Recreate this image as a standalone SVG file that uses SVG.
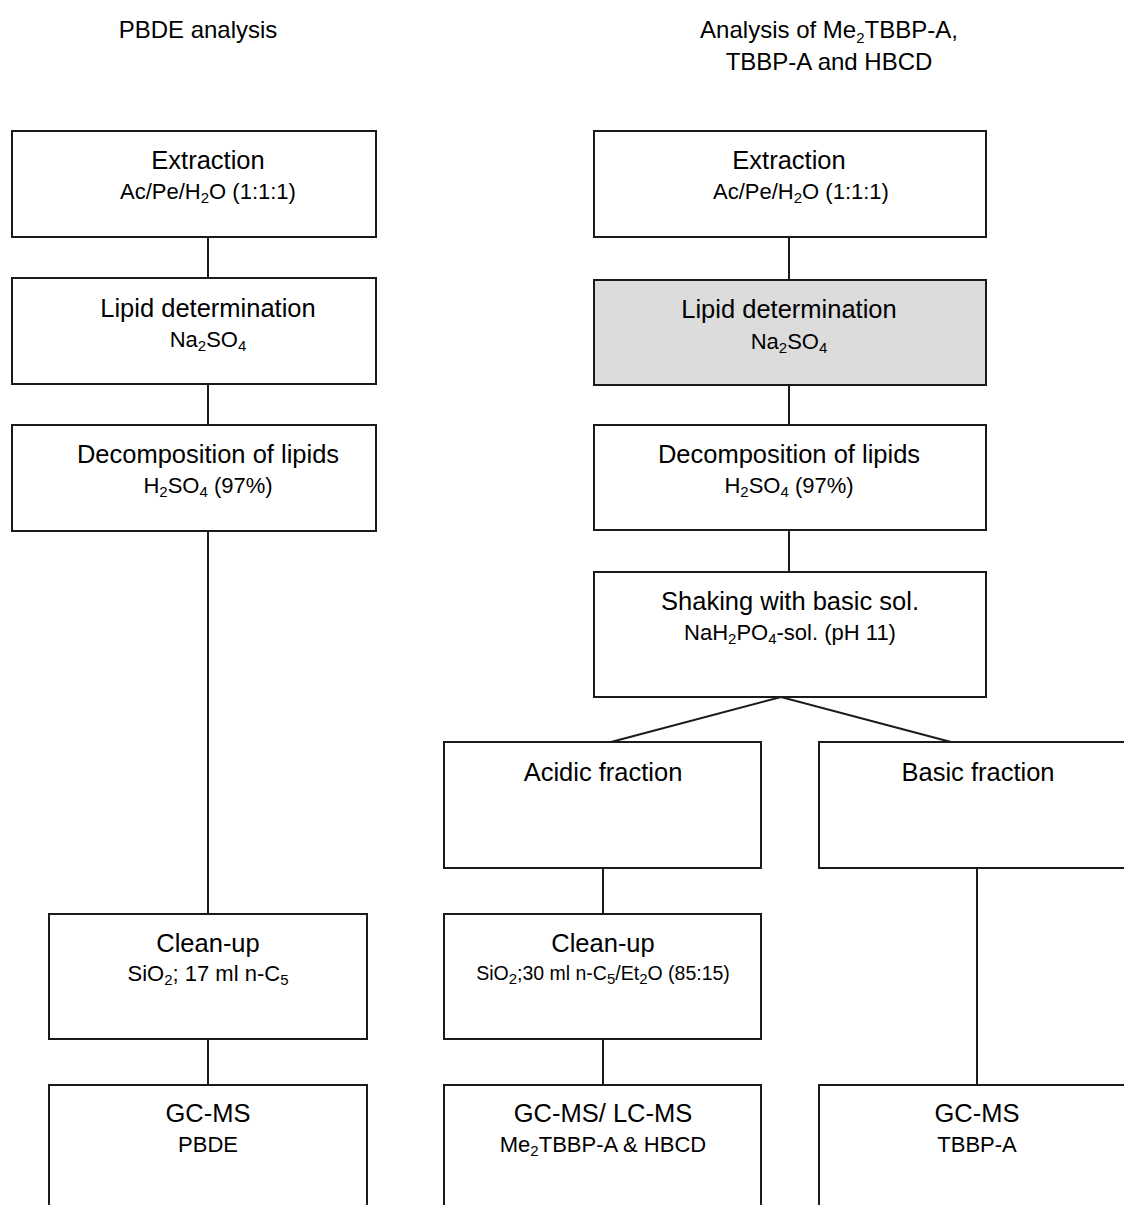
<svg xmlns="http://www.w3.org/2000/svg" width="1124" height="1205" viewBox="0 0 1124 1205">
<style>
.box{fill:#fff;stroke:#1a1a1a;stroke-width:2}
.shade{fill:#dcdcdc}
.conn{stroke:#1a1a1a;stroke-width:2;fill:none}
text{font-family:"Liberation Sans",Arial,sans-serif;fill:#000;text-anchor:middle}
.t{font-size:25.5px}
.s{font-size:22px}
.xs{font-size:19.5px}
.h{font-size:24px}
.b{font-size:15px}
</style>
<rect width="1124" height="1205" fill="#fff"/>
<text class="h" x="198" y="38">PBDE analysis</text>
<text class="h" x="829" y="38">Analysis of Me<tspan class="b" dy="5">2</tspan><tspan dy="-5">TBBP-A,</tspan></text>
<text class="h" x="829" y="70">TBBP-A and HBCD</text>

<g id="connectors">
<line class="conn" x1="208" y1="237" x2="208" y2="278"/>
<line class="conn" x1="208" y1="384" x2="208" y2="425"/>
<line class="conn" x1="208" y1="531" x2="208" y2="914"/>
<line class="conn" x1="208" y1="1039" x2="208" y2="1085"/>
<line class="conn" x1="789" y1="237" x2="789" y2="280"/>
<line class="conn" x1="789" y1="385" x2="789" y2="425"/>
<line class="conn" x1="789" y1="530" x2="789" y2="572"/>
<polyline class="conn" points="611,742 781,697 951,742"/>
<line class="conn" x1="603" y1="868" x2="603" y2="914"/>
<line class="conn" x1="603" y1="1039" x2="603" y2="1085"/>
<line class="conn" x1="977" y1="868" x2="977" y2="1085"/>
</g>

<g id="l-extraction">
<rect class="box" x="12" y="131" width="364" height="106"/>
<text class="t" x="208" y="169">Extraction</text>
<text class="s" x="208" y="199">Ac/Pe/H<tspan class="b" dy="4">2</tspan><tspan dy="-4">O (1:1:1)</tspan></text>
</g>
<g id="l-lipid">
<rect class="box" x="12" y="278" width="364" height="106"/>
<text class="t" x="208" y="317">Lipid determination</text>
<text class="s" x="208" y="347">Na<tspan class="b" dy="4">2</tspan><tspan dy="-4">SO</tspan><tspan class="b" dy="4">4</tspan></text>
</g>
<g id="l-decomp">
<rect class="box" x="12" y="425" width="364" height="106"/>
<text class="t" x="208" y="463">Decomposition of lipids</text>
<text class="s" x="208" y="493">H<tspan class="b" dy="4">2</tspan><tspan dy="-4">SO</tspan><tspan class="b" dy="4">4</tspan><tspan dy="-4"> (97%)</tspan></text>
</g>
<g id="l-cleanup">
<rect class="box" x="49" y="914" width="318" height="125"/>
<text class="t" x="208" y="952">Clean-up</text>
<text class="s" x="208" y="981">SiO<tspan class="b" dy="4">2</tspan><tspan dy="-4">; 17 ml n-C</tspan><tspan class="b" dy="4">5</tspan></text>
</g>
<g id="l-gcms">
<rect class="box" x="49" y="1085" width="318" height="140"/>
<text class="t" x="208" y="1122">GC-MS</text>
<text class="s" x="208" y="1152">PBDE</text>
</g>

<g id="r-extraction">
<rect class="box" x="594" y="131" width="392" height="106"/>
<text class="t" x="789" y="169">Extraction</text>
<text class="s" x="801" y="199">Ac/Pe/H<tspan class="b" dy="4">2</tspan><tspan dy="-4">O (1:1:1)</tspan></text>
</g>
<g id="r-lipid">
<rect class="box shade" x="594" y="280" width="392" height="105"/>
<text class="t" x="789" y="318">Lipid determination</text>
<text class="s" x="789" y="349">Na<tspan class="b" dy="4">2</tspan><tspan dy="-4">SO</tspan><tspan class="b" dy="4">4</tspan></text>
</g>
<g id="r-decomp">
<rect class="box" x="594" y="425" width="392" height="105"/>
<text class="t" x="789" y="463">Decomposition of lipids</text>
<text class="s" x="789" y="493">H<tspan class="b" dy="4">2</tspan><tspan dy="-4">SO</tspan><tspan class="b" dy="4">4</tspan><tspan dy="-4"> (97%)</tspan></text>
</g>
<g id="r-shaking">
<rect class="box" x="594" y="572" width="392" height="125"/>
<text class="t" x="790" y="610">Shaking with basic sol.</text>
<text class="s" x="790" y="640">NaH<tspan class="b" dy="4">2</tspan><tspan dy="-4">PO</tspan><tspan class="b" dy="4">4</tspan><tspan dy="-4">-sol. (pH 11)</tspan></text>
</g>
<g id="r-acidic">
<rect class="box" x="444" y="742" width="317" height="126"/>
<text class="t" x="603" y="781">Acidic fraction</text>
</g>
<g id="r-basic">
<rect class="box" x="819" y="742" width="320" height="126"/>
<text class="t" x="978" y="781">Basic fraction</text>
</g>
<g id="r-cleanup">
<rect class="box" x="444" y="914" width="317" height="125"/>
<text class="t" x="603" y="952">Clean-up</text>
<text class="xs" x="603" y="980">SiO<tspan class="b" dy="4">2</tspan><tspan dy="-4">;30 ml n-C</tspan><tspan class="b" dy="4">5</tspan><tspan dy="-4">/Et</tspan><tspan class="b" dy="4">2</tspan><tspan dy="-4">O (85:15)</tspan></text>
</g>
<g id="r-gclc">
<rect class="box" x="444" y="1085" width="317" height="140"/>
<text class="t" x="603" y="1122">GC-MS/ LC-MS</text>
<text class="s" x="603" y="1152">Me<tspan class="b" dy="4">2</tspan><tspan dy="-4">TBBP-A &amp; HBCD</tspan></text>
</g>
<g id="r-gcms">
<rect class="box" x="819" y="1085" width="320" height="140"/>
<text class="t" x="977" y="1122">GC-MS</text>
<text class="s" x="977" y="1152">TBBP-A</text>
</g>
</svg>
